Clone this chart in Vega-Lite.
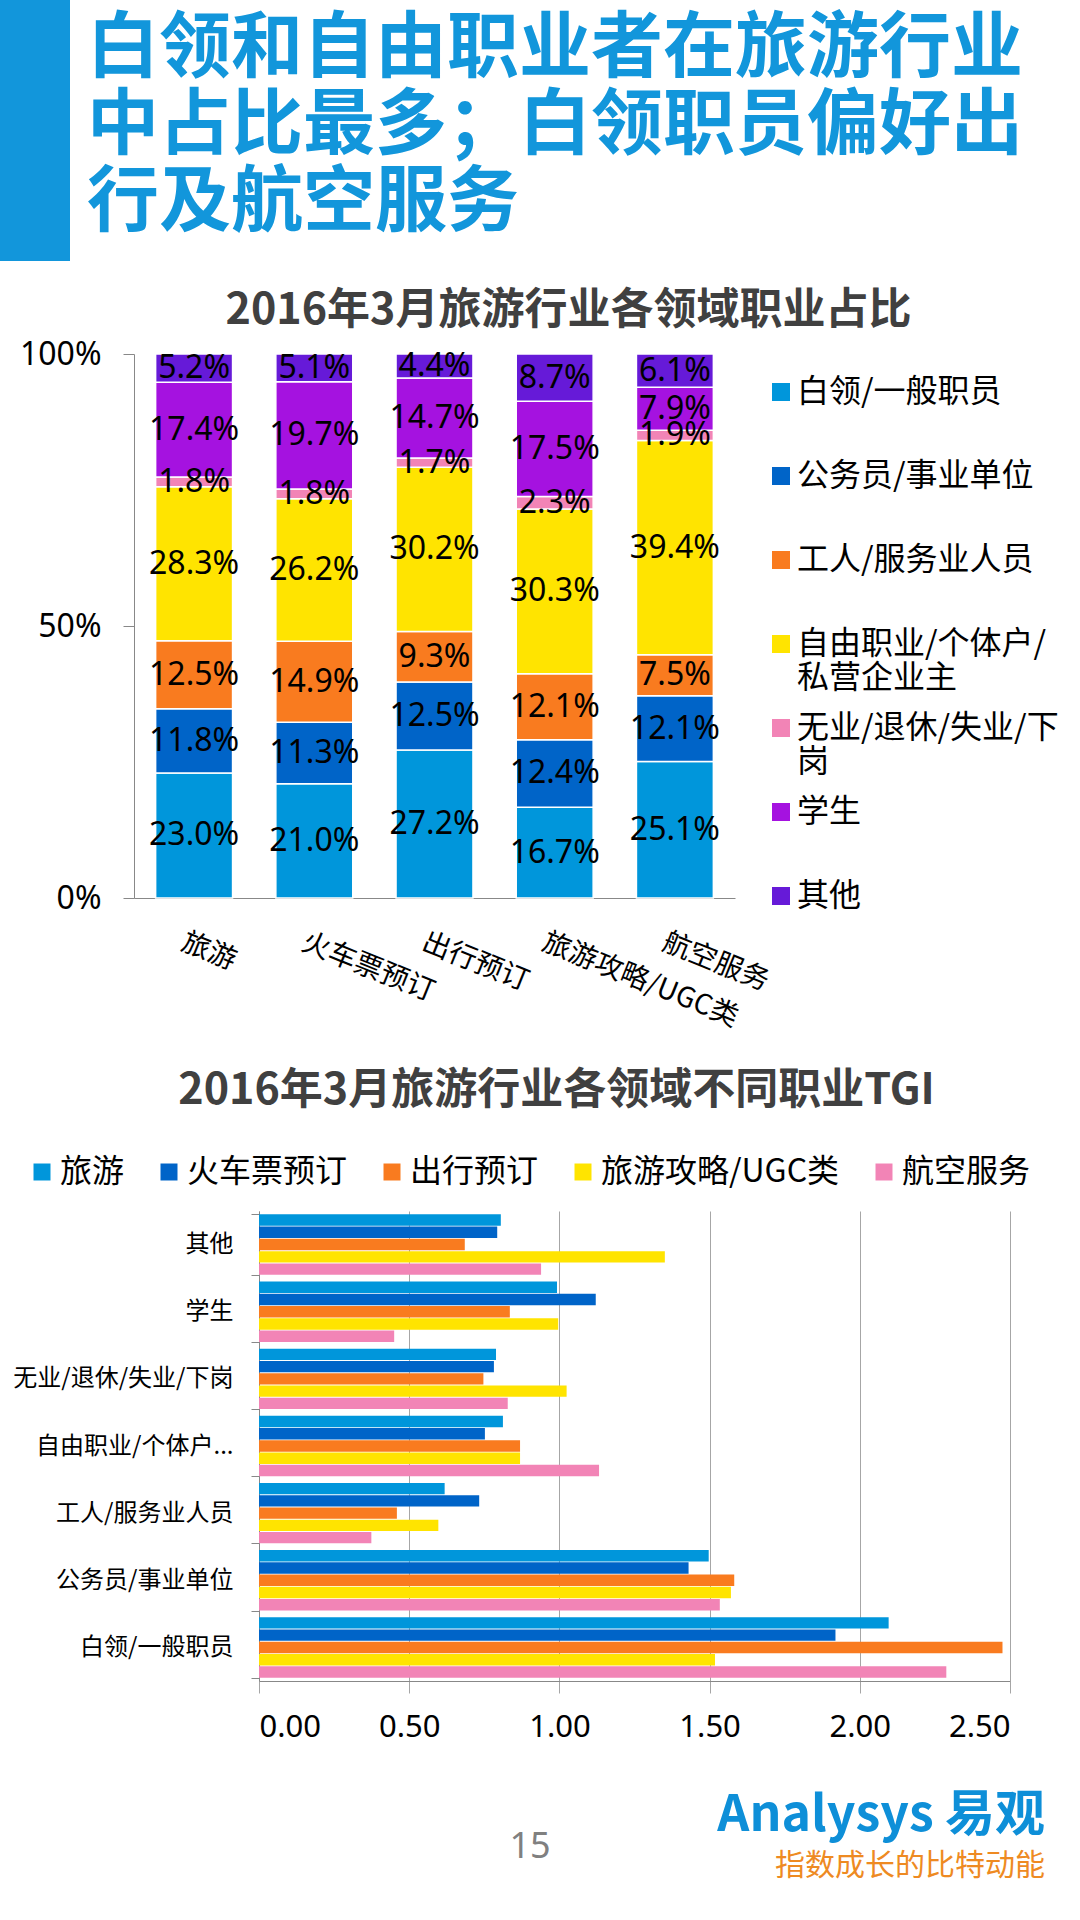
{
  "$schema": "https://vega.github.io/schema/vega-lite/v6.json",
  "background": "white",
  "padding": 0,
  "spacing": 29,
  "resolve": {"scale": {"color": "independent"}, "legend": {"color": "independent"}},
  "config": {
    "font": "Noto Sans CJK SC",
    "view": {"stroke": null},
    "axis": {"labelColor": "#000000", "labelFont": "Noto Sans CJK SC"},
    "legend": {"labelColor": "#000000", "labelFont": "Noto Sans CJK SC"},
    "title": {"font": "Noto Sans CJK SC"}
  },
  "datasets": {
    "share": [
      {"domain": "旅游", "job": "白领/一般职员", "pct": 23.0},
      {"domain": "旅游", "job": "公务员/事业单位", "pct": 11.8},
      {"domain": "旅游", "job": "工人/服务业人员", "pct": 12.5},
      {"domain": "旅游", "job": "自由职业/个体户/私营企业主", "pct": 28.3},
      {"domain": "旅游", "job": "无业/退休/失业/下岗", "pct": 1.8},
      {"domain": "旅游", "job": "学生", "pct": 17.4},
      {"domain": "旅游", "job": "其他", "pct": 5.2},
      {"domain": "火车票预订", "job": "白领/一般职员", "pct": 21.0},
      {"domain": "火车票预订", "job": "公务员/事业单位", "pct": 11.3},
      {"domain": "火车票预订", "job": "工人/服务业人员", "pct": 14.9},
      {"domain": "火车票预订", "job": "自由职业/个体户/私营企业主", "pct": 26.2},
      {"domain": "火车票预订", "job": "无业/退休/失业/下岗", "pct": 1.8},
      {"domain": "火车票预订", "job": "学生", "pct": 19.7},
      {"domain": "火车票预订", "job": "其他", "pct": 5.1},
      {"domain": "出行预订", "job": "白领/一般职员", "pct": 27.2},
      {"domain": "出行预订", "job": "公务员/事业单位", "pct": 12.5},
      {"domain": "出行预订", "job": "工人/服务业人员", "pct": 9.3},
      {"domain": "出行预订", "job": "自由职业/个体户/私营企业主", "pct": 30.2},
      {"domain": "出行预订", "job": "无业/退休/失业/下岗", "pct": 1.7},
      {"domain": "出行预订", "job": "学生", "pct": 14.7},
      {"domain": "出行预订", "job": "其他", "pct": 4.4},
      {"domain": "旅游攻略/UGC类", "job": "白领/一般职员", "pct": 16.7},
      {"domain": "旅游攻略/UGC类", "job": "公务员/事业单位", "pct": 12.4},
      {"domain": "旅游攻略/UGC类", "job": "工人/服务业人员", "pct": 12.1},
      {"domain": "旅游攻略/UGC类", "job": "自由职业/个体户/私营企业主", "pct": 30.3},
      {"domain": "旅游攻略/UGC类", "job": "无业/退休/失业/下岗", "pct": 2.3},
      {"domain": "旅游攻略/UGC类", "job": "学生", "pct": 17.5},
      {"domain": "旅游攻略/UGC类", "job": "其他", "pct": 8.7},
      {"domain": "航空服务", "job": "白领/一般职员", "pct": 25.1},
      {"domain": "航空服务", "job": "公务员/事业单位", "pct": 12.1},
      {"domain": "航空服务", "job": "工人/服务业人员", "pct": 7.5},
      {"domain": "航空服务", "job": "自由职业/个体户/私营企业主", "pct": 39.4},
      {"domain": "航空服务", "job": "无业/退休/失业/下岗", "pct": 1.9},
      {"domain": "航空服务", "job": "学生", "pct": 7.9},
      {"domain": "航空服务", "job": "其他", "pct": 6.1}
    ],
    "tgi": [
      {"job": "其他", "domain": "旅游", "tgi": 0.805},
      {"job": "其他", "domain": "火车票预订", "tgi": 0.793},
      {"job": "其他", "domain": "出行预订", "tgi": 0.685},
      {"job": "其他", "domain": "旅游攻略/UGC类", "tgi": 1.351},
      {"job": "其他", "domain": "航空服务", "tgi": 0.939},
      {"job": "学生", "domain": "旅游", "tgi": 0.992},
      {"job": "学生", "domain": "火车票预订", "tgi": 1.121},
      {"job": "学生", "domain": "出行预订", "tgi": 0.835},
      {"job": "学生", "domain": "旅游攻略/UGC类", "tgi": 0.996},
      {"job": "学生", "domain": "航空服务", "tgi": 0.450},
      {"job": "无业/退休/失业/下岗", "domain": "旅游", "tgi": 0.789},
      {"job": "无业/退休/失业/下岗", "domain": "火车票预订", "tgi": 0.782},
      {"job": "无业/退休/失业/下岗", "domain": "出行预订", "tgi": 0.747},
      {"job": "无业/退休/失业/下岗", "domain": "旅游攻略/UGC类", "tgi": 1.024},
      {"job": "无业/退休/失业/下岗", "domain": "航空服务", "tgi": 0.828},
      {"job": "自由职业/个体户/私营企业主", "domain": "旅游", "tgi": 0.812},
      {"job": "自由职业/个体户/私营企业主", "domain": "火车票预订", "tgi": 0.752},
      {"job": "自由职业/个体户/私营企业主", "domain": "出行预订", "tgi": 0.869},
      {"job": "自由职业/个体户/私营企业主", "domain": "旅游攻略/UGC类", "tgi": 0.869},
      {"job": "自由职业/个体户/私营企业主", "domain": "航空服务", "tgi": 1.132},
      {"job": "工人/服务业人员", "domain": "旅游", "tgi": 0.618},
      {"job": "工人/服务业人员", "domain": "火车票预订", "tgi": 0.733},
      {"job": "工人/服务业人员", "domain": "出行预订", "tgi": 0.459},
      {"job": "工人/服务业人员", "domain": "旅游攻略/UGC类", "tgi": 0.597},
      {"job": "工人/服务业人员", "domain": "航空服务", "tgi": 0.374},
      {"job": "公务员/事业单位", "domain": "旅游", "tgi": 1.497},
      {"job": "公务员/事业单位", "domain": "火车票预订", "tgi": 1.430},
      {"job": "公务员/事业单位", "domain": "出行预订", "tgi": 1.582},
      {"job": "公务员/事业单位", "domain": "旅游攻略/UGC类", "tgi": 1.571},
      {"job": "公务员/事业单位", "domain": "航空服务", "tgi": 1.534},
      {"job": "白领/一般职员", "domain": "旅游", "tgi": 2.096},
      {"job": "白领/一般职员", "domain": "火车票预订", "tgi": 1.919},
      {"job": "白领/一般职员", "domain": "出行预订", "tgi": 2.475},
      {"job": "白领/一般职员", "domain": "旅游攻略/UGC类", "tgi": 1.518},
      {"job": "白领/一般职员", "domain": "航空服务", "tgi": 2.288}
    ]
  },
  "vconcat": [
    {
      "width": 70,
      "height": 261,
      "view": {"fill": "#1296DB", "stroke": null},
      "data": {"values": [
        {"line": 1, "text": "白领和自由职业者在旅游行业"},
        {"line": 2, "text": "中占比最多；白领职员偏好出"},
        {"line": 3, "text": "行及航空服务"}
      ]},
      "mark": {"type": "text", "align": "left", "baseline": "middle", "dx": 52, "fontSize": 72, "fontWeight": "bold", "color": "#1296DB"},
      "encoding": {
        "y": {"field": "line", "type": "ordinal", "scale": {"type": "point", "padding": 0.695, "align": 0.46}, "axis": null},
        "text": {"field": "text", "type": "nominal"}
      }
    },
    {
      "spacing": 38,
      "resolve": {"scale": {"color": "independent"}, "legend": {"color": "independent"}},
      "vconcat": [
        {
          "spacing": 0,
          "hconcat": [
            {"width": 1, "height": 1, "data": {"values": [{}]}, "mark": {"type": "text"}},
            {
              "width": 601,
              "height": 544,
              "data": {"name": "share"},
              "transform": [
                {"calculate": "indexof(['白领/一般职员','公务员/事业单位','工人/服务业人员','自由职业/个体户/私营企业主','无业/退休/失业/下岗','学生','其他'], datum.job)", "as": "k"},
                {"stack": "pct", "groupby": ["domain"], "sort": [{"field": "k", "order": "ascending"}], "as": ["y0", "y1"]},
                {"calculate": "(datum.y0 + datum.y1) / 2", "as": "ym"},
                {"calculate": "format(datum.pct, '.1f') + '%'", "as": "lab"}
              ],
              "title": {
                "text": "2016年3月旅游行业各领域职业占比",
                "fontSize": 43,
                "fontWeight": "bold",
                "color": "#404040",
                "anchor": "middle",
                "frame": "group",
                "dx": 134,
                "offset": 5
              },
              "encoding": {
                "x": {
                  "field": "domain",
                  "type": "nominal",
                  "sort": ["旅游", "火车票预订", "出行预订", "旅游攻略/UGC类", "航空服务"],
                  "scale": {"paddingInner": 0.36, "paddingOuter": 0.18},
                  "axis": {
                    "title": null,
                    "labelAngle": 22,
                    "labelAlign": "left",
                    "labelBaseline": "top",
                    "labelFontSize": 28,
                    "labelPadding": 30,
                    "labelOffset": -6,
                    "ticks": false,
                    "domainColor": "#888888",
                    "labelLimit": 400
                  }
                }
              },
              "layer": [
                {
                  "mark": {"type": "bar", "stroke": "white", "strokeWidth": 1.5},
                  "encoding": {
                    "y": {
                      "field": "y0",
                      "type": "quantitative",
                      "scale": {"domain": [0, 100], "nice": false},
                      "axis": {
                        "title": null,
                        "values": [0, 50, 100],
                        "labelExpr": "datum.value + '%'",
                        "labelFont": "Noto Sans",
                        "labelFontSize": 32,
                        "labelPadding": 22,
                        "tickSize": 11,
                        "tickColor": "#888888",
                        "domainColor": "#888888",
                        "grid": false,
                        "minExtent": 133,
                        "maxExtent": 133
                      }
                    },
                    "y2": {"field": "y1"},
                    "color": {
                      "field": "job",
                      "type": "nominal",
                      "scale": {
                        "domain": ["白领/一般职员", "公务员/事业单位", "工人/服务业人员", "自由职业/个体户/私营企业主", "无业/退休/失业/下岗", "学生", "其他"],
                        "range": ["#0096DB", "#0064C8", "#F97B1F", "#FFE400", "#F284B6", "#A512E0", "#661AD8"]
                      },
                      "legend": {
                        "orient": "none",
                        "legendX": 765,
                        "legendY": 22,
                        "direction": "vertical",
                        "title": null,
                        "padding": 0,
                        "symbolType": "square",
                        "symbolSize": 324,
                        "symbolStrokeWidth": 0,
                        "labelFontSize": 32,
                        "labelOffset": 0,
                        "labelLimit": 400,
                        "rowPadding": 18,
                        "gridAlign": "all",
                        "labelBaseline": "middle",
                        "labelExpr": "datum.label == '自由职业/个体户/私营企业主' ? ['自由职业/个体户/', '私营企业主'] : datum.label == '无业/退休/失业/下岗' ? ['无业/退休/失业/下', '岗'] : datum.label"
                      }
                    }
                  }
                },
                {
                  "mark": {"type": "text", "fontSize": 32, "font": "Noto Sans", "color": "#000000"},
                  "encoding": {
                    "y": {"field": "ym", "type": "quantitative"},
                    "text": {"field": "lab", "type": "nominal"}
                  }
                }
              ]
            }
          ]
        },
        {
          "spacing": 0,
          "hconcat": [
            {"width": 1, "height": 1, "data": {"values": [{}]}, "mark": {"type": "text"}},
            {
              "width": 751,
              "height": 470,
              "data": {"name": "tgi"},
              "title": {
                "text": "2016年3月旅游行业各领域不同职业TGI",
                "fontSize": 43,
                "fontWeight": "bold",
                "color": "#404040",
                "anchor": "middle",
                "frame": "group",
                "dx": -78,
                "offset": 86
              },
              "mark": {"type": "bar"},
              "encoding": {
                "y": {
                  "field": "job",
                  "type": "nominal",
                  "sort": ["其他", "学生", "无业/退休/失业/下岗", "自由职业/个体户/私营企业主", "工人/服务业人员", "公务员/事业单位", "白领/一般职员"],
                  "scale": {"paddingInner": 0.1, "paddingOuter": 0.05},
                  "axis": {
                    "title": null,
                    "tickBand": "extent",
                    "tickSize": 8,
                    "tickColor": "#888888",
                    "domainColor": "#888888",
                    "labelFontSize": 24,
                    "labelPadding": 18,
                    "labelLimit": 400,
                    "minExtent": 258,
                    "maxExtent": 258,
                    "labelExpr": "datum.label == '自由职业/个体户/私营企业主' ? '自由职业/个体户...' : datum.label"
                  }
                },
                "yOffset": {
                  "field": "domain",
                  "type": "nominal",
                  "sort": ["旅游", "火车票预订", "出行预订", "旅游攻略/UGC类", "航空服务"],
                  "scale": {"paddingInner": 0.07, "paddingOuter": 0}
                },
                "x": {
                  "field": "tgi",
                  "type": "quantitative",
                  "scale": {"domain": [0, 2.5], "nice": false},
                  "axis": {
                    "title": null,
                    "values": [0, 0.5, 1, 1.5, 2, 2.5],
                    "format": ".2f",
                    "grid": true,
                    "gridColor": "#A6A6A6",
                    "tickSize": 12,
                    "tickColor": "#A6A6A6",
                    "domainColor": "#888888",
                    "labelFont": "Noto Sans",
                    "labelFontSize": 31,
                    "labelPadding": 19
                  }
                },
                "color": {
                  "field": "domain",
                  "type": "nominal",
                  "scale": {
                    "domain": ["旅游", "火车票预订", "出行预订", "旅游攻略/UGC类", "航空服务"],
                    "range": ["#0096DB", "#0064C8", "#F97B1F", "#FFE400", "#F284B6"]
                  },
                  "legend": {
                    "orient": "none",
                    "direction": "horizontal",
                    "legendX": 26,
                    "legendY": -55,
                    "title": null,
                    "padding": 0,
                    "symbolType": "square",
                    "symbolSize": 289,
                    "symbolStrokeWidth": 0,
                    "labelFontSize": 32,
                    "labelOffset": 2,
                    "columnPadding": 28,
                    "labelLimit": 400
                  }
                }
              }
            }
          ]
        }
      ]
    },
    {
      "width": 1060,
      "height": 152,
      "data": {"values": [{"page": "15"}]},
      "mark": {"type": "text", "fontSize": 36, "font": "Noto Sans", "color": "#808080"},
      "encoding": {"text": {"field": "page", "type": "nominal"}},
      "title": {
        "text": "Analysys 易观",
        "subtitle": "指数成长的比特动能",
        "orient": "bottom",
        "anchor": "end",
        "offset": -132,
        "dx": -15,
        "fontSize": 50,
        "fontWeight": "bold",
        "color": "#0E8FD8",
        "subtitleFontSize": 30,
        "subtitleColor": "#EE8A22",
        "subtitlePadding": 10
      }
    }
  ]
}
